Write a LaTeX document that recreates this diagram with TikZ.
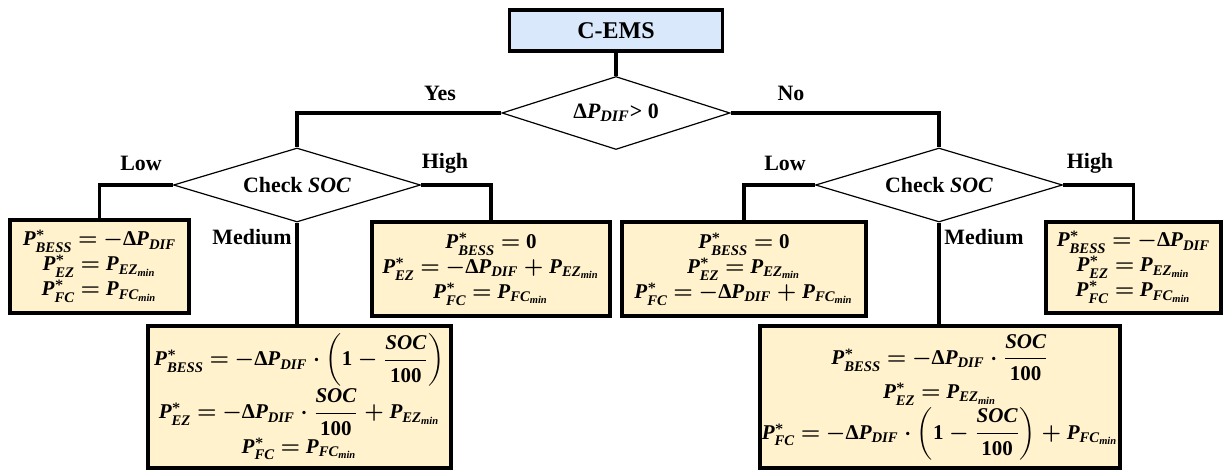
\documentclass[tikz,border=0pt,11pt]{standalone}
\usepackage{amsmath}
\usepackage{xcolor}
\usepackage{fontspec}
\setmainfont{Liberation Serif}
\usepackage{tikz}
\usetikzlibrary{shapes.geometric}
\definecolor{myboxfill}{RGB}{255,242,204}
\definecolor{mytopfill}{RGB}{218,232,252}
\newcommand\myboxfont{\fontsize{10.5}{12.5}\selectfont\bfseries\boldmath\thickmuskip=4mu\relax}
\pgfkeys{tikz/myflowenv/.style={x=0.5pt,y=-0.5pt,font=\bfseries}}
\pgfkeys{tikz/mystart/.style={draw,line width=1.6pt,fill=mytopfill,inner sep=0pt,font=\bfseries\large}}
\pgfkeys{tikz/myresult/.style={draw,line width=1.9pt,fill=myboxfill,align=center,inner sep=1pt,font=\myboxfont}}
\pgfkeys{tikz/mydecision/.style={diamond,draw,line width=0.6pt,inner sep=0pt,aspect=3,font=\bfseries\boldmath}}
\pgfkeys{tikz/mylink/.style={line width=1.6pt}}
\newcommand\mytx[1]{\text{\bfseries\itshape #1}}
\newcommand\mynum[1]{\text{\bfseries #1}}
\newcommand\mypstar[1]{\mytx{P}^{*}_{\mytx{#1}}}
\newcommand\mypmin[1]{\mytx{P}_{\mytx{#1}_{\mytx{min}}}}
\newcommand\mydp{\mynum{Δ}\mytx{P}_{\mytx{DIF}}}
\newcommand\mysocfrac{\frac{\mytx{SOC}}{\mynum{100}}}

\begin{document}
\begin{tikzpicture}[myflowenv]
    \useasboundingbox (0,0) rectangle (1223,470);
    \node[mystart, minimum width=106.5pt, minimum height=20.5pt] (cems) at (616,30.5) {C-EMS};
    \node[mydecision, minimum width=114pt, minimum height=36.5pt] (dif) at (616,113) {$\mydp$> 0};
    \node[mydecision, minimum width=123.5pt, minimum height=37pt] (socL) at (297,185) {Check \textit{SOC}};
    \node[mydecision, minimum width=123.5pt, minimum height=37pt] (socR) at (939,185) {Check \textit{SOC}};
    % results of the Yes branch
    \node[myresult, minimum width=89.5pt, minimum height=46.5pt] (boxLL) at (99.5,266.5) {
        $\mypstar{BESS}=-\mydp$\\
        $\mypstar{EZ}=\mypmin{EZ}$\\
        $\mypstar{FC}=\mypmin{FC}$};
    \node[myresult, minimum width=119pt, minimum height=47pt] (boxLH) at (491,269) {
        $\mypstar{BESS}=\mynum{0}$\\
        $\mypstar{EZ}=-\mydp+\mypmin{EZ}$\\
        $\mypstar{FC}=\mypmin{FC}$};
    \node[myresult, minimum width=151.5pt, minimum height=71pt] (boxLM) at (299.5,397) {
        $\displaystyle\mypstar{BESS}=-\mydp\cdot\left(\mynum{1}-\mysocfrac\right)$\\
        $\displaystyle\mypstar{EZ}=-\mydp\cdot\mysocfrac+\mypmin{EZ}$\\
        $\mypstar{FC}=\mypmin{FC}$};
    % results of the No branch
    \node[myresult, minimum width=122pt, minimum height=47pt] (boxRL) at (744,269) {
        $\mypstar{BESS}=\mynum{0}$\\
        $\mypstar{EZ}=\mypmin{EZ}$\\
        $\mypstar{FC}=-\mydp+\mypmin{FC}$};
    \node[myresult, minimum width=87.5pt, minimum height=45.5pt] (boxRH) at (1133.5,267.5) {
        $\mypstar{BESS}=-\mydp$\\
        $\mypstar{EZ}=\mypmin{EZ}$\\
        $\mypstar{FC}=\mypmin{FC}$};
    \node[myresult, minimum width=178pt, minimum height=71pt] (boxRM) at (940,397) {
        $\displaystyle\mypstar{BESS}=-\mydp\cdot\mysocfrac$\\
        $\mypstar{EZ}=\mypmin{EZ}$\\
        $\displaystyle\mypstar{FC}=-\mydp\cdot\left(\mynum{1}-\mysocfrac\right)+\mypmin{FC}$};
    % links
    \draw[mylink] (cems) -- (dif);
    \draw[mylink] (dif.west) -| (socL.north);
    \draw[mylink] (dif.east) -| (socR.north);
    \draw[mylink] (socL.west) -| (boxLL.north);
    \draw[mylink] (socL.east) -| (boxLH.north);
    \draw[mylink] (socL.south) -- (socL.south |- boxLM.north);
    \draw[mylink] (socR.west) -| (boxRL.north);
    \draw[mylink] (socR.east) -| (boxRH.north);
    \draw[mylink] (socR.south) -- (socR.south |- boxRM.north);
    % labels
    \node (yes) at (440,93) {Yes};
    \node (no) at (791,93) {No};
    \node (lowL) at (141,163) {Low};
    \node (highL) at (445,163) {High};
    \node (medL) at (252,237) {Medium};
    \node (lowR) at (785,163) {Low};
    \node (highR) at (1090,163) {High};
    \node (medR) at (984,237) {Medium};
\end{tikzpicture}
\end{document}
